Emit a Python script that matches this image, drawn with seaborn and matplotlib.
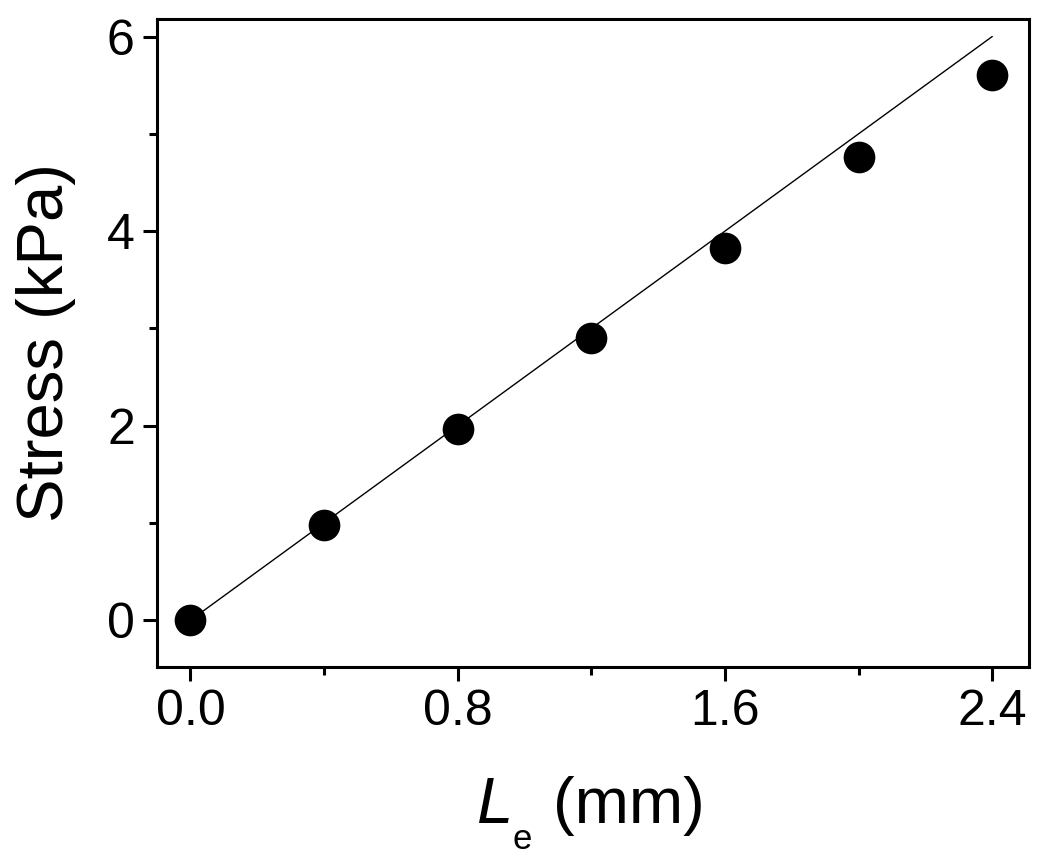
import matplotlib
matplotlib.use("Agg")
import matplotlib.pyplot as plt
import seaborn as sns
import numpy as np
import pandas as pd
from matplotlib.ticker import MultipleLocator

le_mm = [0.0, 0.4, 0.8, 1.2, 1.6, 2.0, 2.4]
stress_kpa = [0.0, 0.98, 1.97, 2.90, 3.83, 4.76, 5.60]
fit_x = [0.0, 2.4]
fit_y = [0.0, 6.0]
x_label_main = "L"
x_label_sub = "e"
x_label_unit = "(mm)"
y_label = "Stress (kPa)"

sns.set_theme(style="ticks")
plt.rcParams['font.family'] = ['Liberation Sans', 'DejaVu Sans']
plt.rcParams['text.color'] = 'black'
plt.rcParams['axes.labelcolor'] = 'black'
plt.rcParams['xtick.color'] = 'black'
plt.rcParams['ytick.color'] = 'black'

W, H = 1050, 867
fig = plt.figure(figsize=(W / 100, H / 100), dpi=100)
ax = fig.add_axes([157/W, 1 - 667/H, (1029-157)/W, (667-19)/H])

df = pd.DataFrame({"x": le_mm, "y": stress_kpa})
fit = pd.DataFrame({"x": fit_x, "y": fit_y})
sns.lineplot(data=fit, x="x", y="y", color="black", linewidth=1.0, ax=ax)
sns.scatterplot(data=df, x="x", y="y", color="black", s=520, edgecolor="black", linewidth=0, ax=ax, zorder=3)

ax.set_xlim(-0.1, 2.51)
ax.set_ylim(-0.48, 6.18)
ax.set_xticks([0.0, 0.8, 1.6, 2.4])
ax.set_xticklabels(["0.0", "0.8", "1.6", "2.4"])
ax.set_yticks([0, 2, 4, 6])
ax.set_yticklabels(["0", "2", "4", "6"])
ax.xaxis.set_minor_locator(MultipleLocator(0.4))
ax.yaxis.set_minor_locator(MultipleLocator(1))

for s in ax.spines.values():
    s.set_linewidth(2.2)
    s.set_color("black")
ax.tick_params(which="major", direction="out", length=10, width=2.2, labelsize=36, pad=6, colors="black")
ax.tick_params(which="minor", direction="out", length=5.5, width=2.2, colors="black")

ax.set_xlabel("")
ax.set_ylabel(y_label, fontsize=47, labelpad=22)

# x label composed with a deep subscript, as in the reference
fig.text(477/W, 1 - 823/H, x_label_main, fontsize=47, style="italic", va="baseline", ha="left")
fig.text(513/W, 1 - 849/H, x_label_sub, fontsize=25, va="baseline", ha="left")
fig.text(553/W, 1 - 823/H, x_label_unit, fontsize=47, va="baseline", ha="left")

fig.savefig("out.png", dpi=100)
